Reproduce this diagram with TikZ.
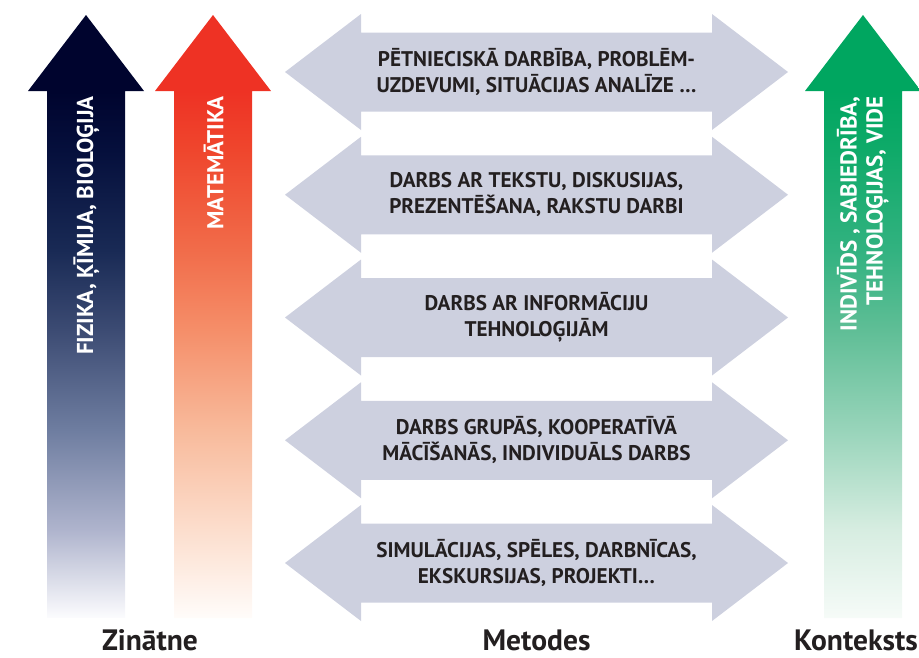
\documentclass[tikz,border=0pt]{standalone}
\usepackage{fontspec}
\setmainfont{PT Sans}
\definecolor{txt}{RGB}{35,31,32}
\definecolor{grayarrow}{RGB}{205,208,223}
% navy
\definecolor{na}{RGB}{252,252,254}
\definecolor{nb}{RGB}{175,180,205}
\definecolor{nc}{RGB}{110,125,160}
\definecolor{nd}{RGB}{60,75,115}
\definecolor{ne}{RGB}{25,42,85}
\definecolor{nf}{RGB}{5,15,60}
\definecolor{ng}{RGB}{0,4,46}
% red
\definecolor{ra}{RGB}{255,252,250}
\definecolor{rb}{RGB}{252,222,205}
\definecolor{rc}{RGB}{248,186,155}
\definecolor{rd}{RGB}{245,142,105}
\definecolor{re}{RGB}{241,108,74}
\definecolor{rf}{RGB}{239,70,45}
\definecolor{rg}{RGB}{238,50,36}
% green
\definecolor{ga}{RGB}{246,251,248}
\definecolor{gb}{RGB}{215,237,225}
\definecolor{gc}{RGB}{152,212,186}
\definecolor{gd}{RGB}{95,190,150}
\definecolor{ge}{RGB}{50,178,128}
\definecolor{gf}{RGB}{15,170,105}
\definecolor{gg}{RGB}{0,166,96}
\pgfdeclareverticalshading{navyshade}{100bp}{color(0bp)=(na); color(25bp)=(na); color(32.3bp)=(nb); color(40.6bp)=(nc); color(48.9bp)=(nd); color(55.5bp)=(ne); color(63.8bp)=(nf); color(68.7bp)=(ng); color(100bp)=(ng)}
\pgfdeclareverticalshading{redshade}{100bp}{color(0bp)=(ra); color(25bp)=(ra); color(32.3bp)=(rb); color(40.6bp)=(rc); color(48.9bp)=(rd); color(55.5bp)=(re); color(63.8bp)=(rf); color(68.7bp)=(rg); color(100bp)=(rg)}
\pgfdeclareverticalshading{greenshade}{100bp}{color(0bp)=(ga); color(25bp)=(ga); color(32.3bp)=(gb); color(40.6bp)=(gc); color(48.9bp)=(gd); color(55.5bp)=(ge); color(63.8bp)=(gf); color(68.7bp)=(gg); color(100bp)=(gg)}
\tikzset{
  midtext/.style={font=\fontsize{21.2}{26}\selectfont\bfseries, text=txt, align=center, inner sep=0pt},
  vtext/.style={font=\fontsize{23}{26}\selectfont\bfseries, text=white, rotate=90, anchor=east, align=right, inner sep=0pt},
  bottomlabel/.style={font=\fontsize{29.5}{32}\selectfont\bfseries, text=txt, inner sep=0pt, anchor=base},
}
\newcommand{\uparrowshape}[1]{% #1 = center x
  (#1,15) -- (#1+58,91) -- (#1+39,91) -- (#1+39,618) -- (#1-39,618) -- (#1-39,91) -- (#1-58,91) -- cycle}
\newcommand{\doublearrowshape}[1]{% #1 = center y
  (285,#1) -- (361,#1-58) -- (361,#1-39.5) -- (712,#1-39.5) -- (712,#1-58) -- (788,#1) -- (712,#1+58) -- (712,#1+39.5) -- (361,#1+39.5) -- (361,#1+58) -- cycle}
\begin{document}
\begin{tikzpicture}[x=1pt,y=-1pt]
\useasboundingbox (0,0) rectangle (919,657);
\clip (0,0) rectangle (919,657);
% vertical arrows
\shade[shading=navyshade] \uparrowshape{86};
\shade[shading=redshade] \uparrowshape{213};
\shade[shading=greenshade] \uparrowshape{863};
\node[vtext] (fiz) at (86.5,96) {FIZIKA, ĶĪMIJA, BIOLOĢIJA};
\node[vtext] (mat) at (213.5,96) {MATEMĀTIKA};
\node[vtext] (ind) at (863,96) {INDIVĪDS , SABIEDRĪBA,\\TEHNOLOĢIJAS, VIDE};
% double arrows
\foreach \cy in {72,194.75,317.5,440.25,563}{
  \fill[grayarrow] \doublearrowshape{\cy};
}
\node[midtext] (m1) at (536.5,72) {PĒTNIECISKĀ DARBĪBA, PROBLĒM-\\UZDEVUMI, SITUĀCIJAS ANALĪZE …};
\node[midtext] (m2) at (536.5,194.75) {DARBS AR TEKSTU, DISKUSIJAS,\\PREZENTĒŠANA, RAKSTU DARBI};
\node[midtext] (m3) at (536.5,317.5) {DARBS AR INFORMĀCIJU\\TEHNOLOĢIJĀM};
\node[midtext] (m4) at (536.5,440.25) {DARBS GRUPĀS, KOOPERATĪVĀ\\MĀCĪŠANĀS, INDIVIDUĀLS DARBS};
\node[midtext] (m5) at (536.5,563) {SIMULĀCIJAS, SPĒLES, DARBNĪCAS,\\EKSKURSIJAS, PROJEKTI…};
% bottom labels
\node[bottomlabel] (zin) at (150,650) {Zinātne};
\node[bottomlabel] (met) at (536.5,650) {Metodes};
\node[bottomlabel] (kon) at (856,650) {Konteksts};
\end{tikzpicture}
\end{document}
